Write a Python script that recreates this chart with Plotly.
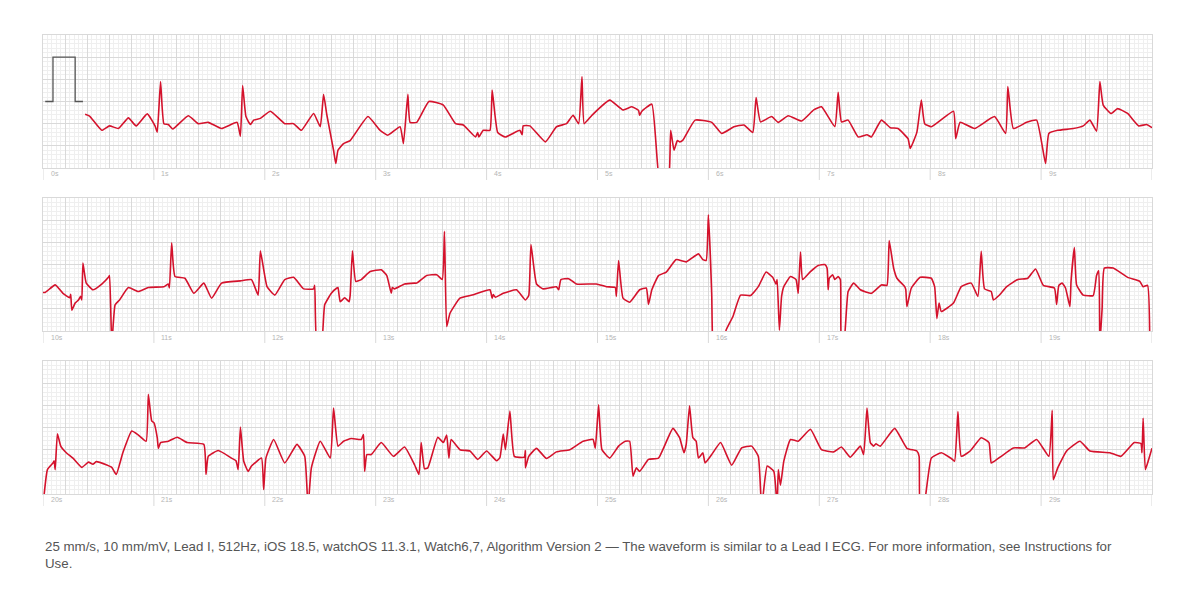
import plotly.graph_objects as go

# ---- data (seconds within row, millivolts) ----
row1_t = [0.38,0.42,0.53,0.60,0.68,0.77,0.84,0.94,1.01,1.03,1.06,1.09,1.13,1.17,1.31,1.40,1.49,1.61,1.75,1.78,1.80,1.83,1.87,1.90,1.96,2.05,2.18,2.26,2.33,2.44,2.50,2.53,2.56,2.62,2.64,2.66,2.71,2.77,2.93,3.04,3.11,3.22,3.25,3.29,3.31,
          3.37,3.48,3.61,3.72,3.79,3.90,3.92,3.93,3.97,4.03,4.05,4.10,4.17,4.30,4.32,4.33,4.39,4.53,4.63,4.72,4.78,4.83,4.86,4.88,4.95,5.11,5.23,5.31,5.37,5.38,5.40,5.49,5.56,5.60,5.64,5.66,5.69,5.72,5.74,5.77,5.88,6.03,6.12,6.23,6.32,6.40,6.43,6.47,6.57,6.63,
          6.72,6.84,6.95,7.02,7.14,7.17,7.20,7.26,7.35,7.43,7.47,7.56,7.64,7.71,7.80,7.82,7.88,7.92,7.95,8.01,8.21,8.23,8.27,8.40,8.58,8.68,8.70,8.75,8.87,8.96,9.04,9.07,9.15,9.29,9.38,9.44,9.50,9.53,9.56,9.63,9.69,9.78,9.88,9.95,10.0]
row1_v = [-0.29,-0.33,-0.65,-0.55,-0.61,-0.37,-0.55,-0.28,-0.55,-0.69,0.45,-0.50,-0.52,-0.62,-0.32,-0.50,-0.47,-0.61,-0.47,-0.78,0.36,-0.34,-0.52,-0.42,-0.38,-0.22,-0.50,-0.50,-0.65,-0.27,-0.57,0.16,-0.31,-1.10,-1.40,-1.10,-0.95,-0.88,-0.34,-0.65,-0.76,-0.57,-0.95,0.16,-0.47,
          -0.47,0.00,-0.08,-0.50,-0.53,-0.80,-0.70,-0.80,-0.65,-0.65,0.26,-0.70,-0.80,-0.65,-0.75,-0.55,-0.55,-0.91,-0.57,-0.50,-0.31,-0.50,0.56,-0.50,-0.31,0.03,-0.19,-0.12,-0.20,-0.31,-0.22,-0.06,-1.80,-1.80,-1.80,-0.65,-1.10,-0.88,-0.91,-0.87,-0.42,-0.47,-0.72,-0.57,-0.53,-0.70,0.09,-0.46,-0.34,-0.47,
          -0.32,-0.44,-0.19,-0.12,-0.57,0.21,-0.46,-0.42,-0.80,-0.75,-0.80,-0.42,-0.59,-0.61,-0.84,-1.06,-0.69,0.03,-0.50,-0.57,-0.22,-0.84,-0.47,-0.61,-0.34,-0.72,0.34,-0.61,-0.47,-0.42,-1.40,-0.72,-0.65,-0.61,-0.55,-0.42,-0.67,0.45,-0.08,-0.27,-0.16,-0.27,-0.55,-0.52,-0.59]

row2_t = [0.00,0.02,0.11,0.18,0.24,0.25,0.26,0.29,0.32,0.34,0.35,0.36,0.39,0.45,0.53,0.59,0.60,0.62,0.65,0.69,0.77,0.86,0.95,1.09,1.13,1.14,1.16,1.19,1.28,1.36,1.45,1.52,1.61,1.78,1.88,1.94,1.96,2.02,2.09,2.18,2.26,2.35,2.44,2.45,2.47,2.51,2.54,2.60,2.65,2.66,2.68,2.72,2.76,2.77,2.79,2.82,2.87,2.95,3.05,3.10,3.14,3.15,3.17,3.26,3.35,
          3.37,3.46,3.55,3.60,3.62,3.64,3.67,3.76,3.87,4.03,4.05,4.06,4.08,4.15,4.27,4.35,4.38,4.40,4.45,4.51,4.63,4.65,4.67,4.74,4.81,4.99,5.08,5.16,5.17,5.19,5.23,5.29,5.38,5.44,5.46,5.49,5.55,5.62,5.71,5.80,5.91,5.95,5.98,6.00,6.03,6.04,6.09,6.16,6.22,6.29,6.38,6.45,6.52,6.58,6.61,6.62,6.64,6.66,
          6.68,6.74,6.79,6.81,6.83,6.85,6.92,6.99,7.05,7.07,7.08,7.09,7.12,7.14,7.17,7.19,7.20,7.22,7.26,7.31,7.37,7.47,7.56,7.61,7.63,7.67,7.70,7.77,7.78,7.79,7.83,7.91,8.01,8.04,8.06,8.08,8.10,8.21,8.28,8.37,8.43,8.46,8.49,8.55,8.57,8.62,8.69,8.79,8.88,8.95,9.02,9.12,9.14,9.16,9.19,9.22,9.26,9.27,9.30,9.32,9.38,9.47,9.50,9.52,9.53,9.55,9.57,9.65,9.78,9.89,9.92,9.96,9.98]
row2_v = [-0.63,-0.63,-0.46,-0.65,-0.75,-0.67,-1.03,-0.87,-0.80,-0.72,-0.80,0.03,-0.42,-0.57,-0.44,-0.29,-0.25,-1.80,-0.91,-0.80,-0.52,-0.61,-0.52,-0.50,-0.44,-0.53,0.49,-0.27,-0.31,-0.65,-0.42,-0.76,-0.42,-0.37,-0.34,-0.69,0.31,-0.50,-0.69,-0.34,-0.29,-0.55,-0.55,-0.47,-1.80,-1.80,-0.91,-0.65,-0.53,-0.52,-0.84,-0.75,-0.84,-0.69,0.31,-0.38,-0.34,-0.16,-0.12,-0.25,-0.65,-0.52,-0.55,-0.44,-0.42,
          -0.42,-0.25,-0.23,-0.34,0.75,-1.40,-1.10,-0.76,-0.69,-0.57,-0.76,-0.68,-0.74,-0.65,-0.57,-0.80,-0.70,0.45,-0.44,-0.55,-0.50,-0.57,-0.34,-0.32,-0.44,-0.44,-0.50,-0.52,-0.72,0.09,-0.76,-0.85,-0.57,-0.53,-0.90,-0.57,-0.25,-0.17,0.11,0.06,0.24,0.11,0.09,1.12,-0.69,-1.80,-2.30,-1.48,-1.18,-0.69,-0.70,-0.50,-0.17,-0.29,-0.44,-0.34,-1.48,-0.72,
          -0.50,-0.27,-0.34,-0.65,0.28,-0.34,-0.16,-0.02,0.00,-0.08,-0.57,-0.31,-0.23,-0.34,-0.27,-0.34,-1.80,-1.80,-0.61,-0.42,-0.57,-0.65,-0.46,-0.47,0.54,-0.08,-0.31,-0.50,-0.57,-0.95,-0.53,-0.29,-0.31,-0.50,-1.22,-0.87,-1.06,-0.87,-0.50,-0.42,-0.72,0.30,-0.55,-0.61,-0.80,-0.70,-0.50,-0.34,-0.31,-0.10,-0.47,-0.53,-0.90,-0.47,-0.42,-0.53,-0.95,-0.38,0.38,-0.46,-0.69,-0.70,-0.25,-0.14,-1.80,-1.00,-0.08,-0.08,-0.29,-0.38,-0.50,-0.47,-1.80]

row3_t = [0.01,0.04,0.09,0.10,0.11,0.13,0.16,0.21,0.27,0.35,0.41,0.45,0.48,0.57,0.62,0.66,0.72,0.80,0.86,0.93,0.95,0.98,1.00,1.03,1.04,1.06,1.13,1.21,1.30,1.45,1.47,1.49,1.58,1.70,1.74,1.76,1.78,1.81,1.85,1.88,1.97,1.99,2.01,2.08,2.18,2.29,2.36,2.39,2.42,2.50,2.59,2.62,2.66,2.71,2.78,2.87,2.89,2.90,2.92,2.96,3.05,3.16,3.26,
          3.35,3.39,3.41,3.44,3.47,3.56,3.61,3.64,3.66,3.68,3.76,3.85,3.92,4.00,4.09,4.12,4.15,4.17,4.21,4.25,4.34,4.35,4.35,4.38,4.45,4.54,4.63,4.75,4.87,4.96,4.98,5.01,5.04,5.11,5.19,5.25,5.29,5.32,5.35,5.38,5.46,5.55,5.68,5.74,5.78,5.80,5.83,5.86,5.89,5.91,5.95,5.97,6.03,6.11,6.21,6.30,6.39,6.45,6.48,6.53,6.59,6.62,6.63,6.65,
          6.68,6.74,6.81,6.92,7.02,7.13,7.20,7.28,7.37,7.40,7.43,7.46,7.49,7.51,7.55,7.68,7.79,7.88,7.90,7.91,7.94,8.01,8.10,8.19,8.22,8.25,8.28,8.36,8.46,8.53,8.55,8.58,8.75,8.85,8.96,9.07,9.10,9.11,9.15,9.23,9.35,9.44,9.62,9.72,9.84,9.90,9.91,9.92,9.94,9.97,10.0]
row3_v = [-1.52,-0.95,-0.80,-0.75,-0.95,-0.14,-0.42,-0.57,-0.69,-0.90,-0.78,-0.83,-0.77,-0.84,-0.90,-1.06,-0.57,-0.08,-0.17,-0.31,0.75,0.15,0.11,-0.23,-0.47,-0.34,-0.31,-0.22,-0.34,-0.38,-1.06,-0.65,-0.52,-0.69,-0.75,-0.95,0.01,-0.76,-0.99,-0.87,-0.69,-1.40,-0.69,-0.27,-0.80,-0.38,-0.65,-1.80,-0.91,-0.31,-0.69,0.44,-0.42,-0.31,-0.25,-0.27,-0.16,-0.99,-0.61,-0.61,-0.34,-0.65,-0.44,
          -0.84,-1.06,-0.34,-0.93,-0.91,-0.22,-0.34,-0.17,-0.69,-0.27,-0.50,-0.53,-0.72,-0.53,-0.75,-0.68,-0.15,-0.50,0.37,-0.65,-0.67,-0.52,-0.91,-0.65,-0.47,-0.70,-0.55,-0.50,-0.31,-0.27,-0.47,0.51,-0.50,-0.69,-0.42,-0.31,-0.31,-1.10,-0.91,-0.99,-0.72,-0.69,-0.02,-0.23,-0.57,-0.38,0.49,-0.23,-0.31,-0.69,-0.57,-0.80,-0.61,-0.34,-0.85,-0.46,-0.42,-0.65,-1.80,-0.87,-0.99,-1.80,-0.95,-1.30,
          -0.76,-0.27,-0.31,-0.04,-0.50,-0.55,-0.44,-0.67,-0.42,-0.61,0.44,-0.34,-0.42,-0.37,-0.42,-0.02,-0.47,-0.53,-0.65,-1.80,-1.80,-0.69,-0.57,-0.70,-0.76,0.36,-0.65,-0.53,-0.23,-0.34,-0.80,-0.76,-0.46,-0.46,-0.27,-0.65,0.39,-1.18,-0.91,-0.53,-0.31,-0.53,-0.57,-0.65,-0.34,-0.36,-0.57,0.21,-0.95,-0.72,-0.47]

cal_t = [0.02, 0.09, 0.09, 0.29, 0.29, 0.36]
cal_v = [0.0, 0.0, 1.0, 1.0, 0.0, 0.0]

row_offsets = [0, 10, 20]
second_ticks = list(range(10))

note = ("25 mm/s, 10 mm/mV, Lead I, 512Hz, iOS 18.5, watchOS 11.3.1, Watch6,7, Algorithm Version 2 — "
        "The waveform is similar to a Lead I ECG. For more information, see Instructions for<br>Use.")

# ---- figure (page body has an 8px margin) ----
OFF = 8
W, H = 1180, 584
x_dom = [(43 - OFF) / W, (1152 - OFF) / W]
rows_px = [(35, 168), (198, 331), (361, 494)]
rows = [(row1_t, row1_v), (row2_t, row2_v), (row3_t, row3_v)]
RED = "#d4122c"

fig = go.Figure()
layout = dict(width=W, height=H, margin=dict(l=0, r=0, t=0, b=0),
              paper_bgcolor="white", plot_bgcolor="white", showlegend=False)
shapes, annots = [], []
for i, ((top, bot), (tt, vv)) in enumerate(zip(rows_px, rows)):
    n = "" if i == 0 else str(i + 1)
    xa, ya = "x" + n, "y" + n
    fig.add_trace(go.Scatter(x=tt, y=vv, mode="lines", xaxis=xa, yaxis=ya,
                             line=dict(color=RED, width=1.6, shape="spline", smoothing=0.4),
                             hoverinfo="skip"))
    if i == 0:
        fig.add_trace(go.Scatter(x=cal_t, y=cal_v, mode="lines", xaxis=xa, yaxis=ya,
                                 line=dict(color="#555555", width=1.3), hoverinfo="skip"))
    grid = dict(showgrid=True, gridcolor="#d9d9d9", gridwidth=1,
                minor=dict(showgrid=True, gridcolor="#efefef", gridwidth=0.6),
                showticklabels=False, zeroline=False, ticks="",
                showline=True, linecolor="#d9d9d9", mirror=True, fixedrange=True)
    layout["xaxis" + n] = dict(grid, domain=x_dom, range=[0, 10], dtick=0.2,
                               minor=dict(grid["minor"], dtick=0.04), anchor=ya)
    layout["yaxis" + n] = dict(grid, domain=[1 - (bot - OFF) / H, 1 - (top - OFF) / H],
                               range=[-1.5, 1.5], dtick=0.5, tick0=0,
                               minor=dict(grid["minor"], dtick=0.1), anchor=xa)
    for s in second_ticks:
        shapes.append(dict(type="line", xref=xa, yref=ya + " domain", x0=s, x1=s,
                           y0=0, y1=-12 / 133, line=dict(color="#d9d9d9", width=1)))
        annots.append(dict(xref=xa, yref=ya + " domain", x=s + 0.05, y=-6 / 133,
                           text=f"{s + row_offsets[i]}s", showarrow=False,
                           xanchor="left", yanchor="middle",
                           font=dict(size=7, color="#b5b5b5", family="Liberation Sans")))
    shapes.append(dict(type="line", xref=xa, yref=ya + " domain", x0=10, x1=10, y0=0,
                       y1=-12 / 133, line=dict(color="#d9d9d9", width=1)))
annots.append(dict(xref="paper", yref="paper", x=(43 - OFF) / W, y=1 - (537 - OFF) / H, text=note,
                   showarrow=False, xanchor="left", yanchor="top", align="left",
                   font=dict(size=13.3, color="#555555", family="Liberation Sans")))
layout["shapes"] = shapes
layout["annotations"] = annots
fig.update_layout(**layout)
fig.write_html("out.html")
